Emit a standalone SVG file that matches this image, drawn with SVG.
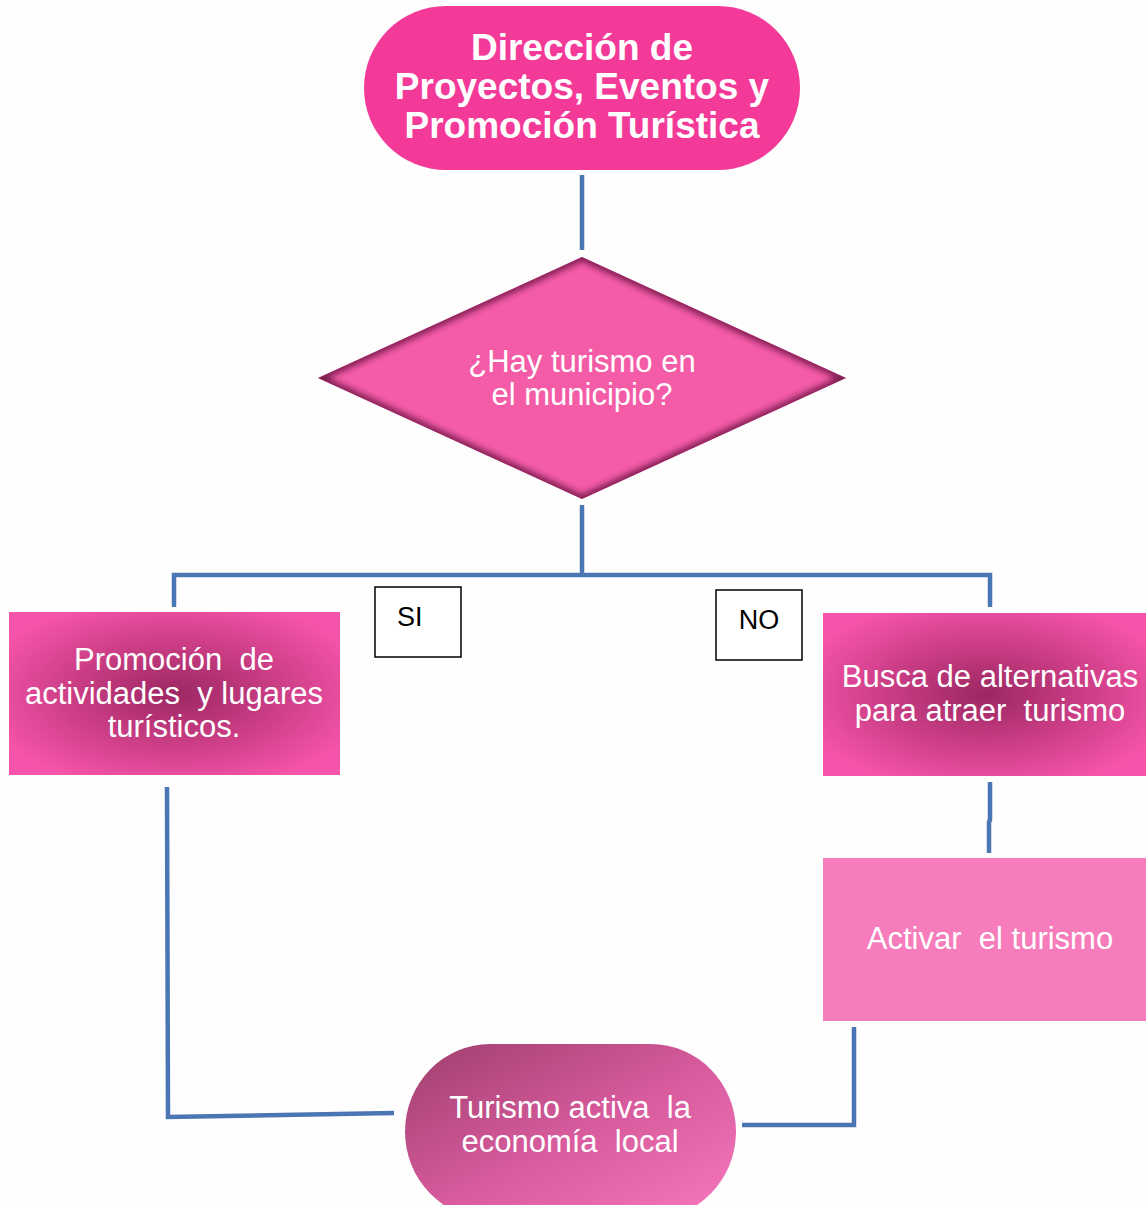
<svg xmlns="http://www.w3.org/2000/svg" width="1146" height="1205" viewBox="0 0 1146 1205">
<style>
.t{font-family:"Liberation Sans",Arial,sans-serif;fill:#fff;text-anchor:middle;font-size:31px;white-space:pre}
.tb{font-family:"Liberation Sans",Arial,sans-serif;fill:#fff;text-anchor:middle;font-weight:bold;font-size:37px}
.c{fill:none;stroke:#4A76B3;stroke-width:4.5}
.lbl{fill:#fff;stroke:#000;stroke-width:1.5}
.lt{font-family:"Liberation Sans",Arial,sans-serif;fill:#000;font-size:27px}
</style>
<defs>
<radialGradient id="rg" cx="0.5" cy="0.5" r="0.6">
<stop offset="0" stop-color="#9C2762"/>
<stop offset="0.55" stop-color="#CE3F88"/>
<stop offset="1" stop-color="#F654AA"/>
</radialGradient>
<linearGradient id="lg" x1="0" y1="0" x2="1" y2="1">
<stop offset="0" stop-color="#9E3F6C"/>
<stop offset="0.5" stop-color="#D65A9C"/>
<stop offset="1" stop-color="#F878BE"/>
</linearGradient>
<clipPath id="dc"><polygon points="318,378 582,257 846,378 582,499"/></clipPath>
<filter id="bl" x="-10%" y="-10%" width="120%" height="120%"><feGaussianBlur stdDeviation="3"/></filter>
</defs>
<rect width="1146" height="1205" fill="#fefefe"/>
<g id="connectors">
<line class="c" x1="582" y1="175" x2="582" y2="250"/>
<polyline class="c" points="582,505 582,575"/>
<polyline class="c" points="174,607 174,575 990,575 990,607"/>
<polyline class="c" points="990,782 990,820 989,822 989,853"/>
<polyline class="c" points="167,787 168,1117 394,1113"/>
<polyline class="c" points="854,1027 854,1125 742,1125"/>
</g>
<g id="n-direccion">
<rect x="364" y="6" width="436" height="164" rx="82" fill="#F43A99"/>
<text class="tb" x="582" y="60">Dirección de</text>
<text class="tb" x="582" y="99">Proyectos, Eventos y</text>
<text class="tb" x="582" y="138">Promoción Turística</text>
</g>
<g id="n-decision">
<polygon points="318,378 582,257 846,378 582,499" fill="#F45CA8"/>
<g clip-path="url(#dc)"><polygon points="318,378 582,257 846,378 582,499" fill="none" stroke="#7D1F4F" stroke-width="8" filter="url(#bl)"/></g>
<text class="t" x="582" y="372">¿Hay turismo en</text>
<text class="t" x="582" y="405">el municipio?</text>
</g>
<g id="lbl-si">
<rect class="lbl" x="375" y="587" width="86" height="70"/>
<text class="lt" x="397" y="626">SI</text>
</g>
<g id="lbl-no">
<rect class="lbl" x="716" y="590" width="86" height="70"/>
<text class="lt" x="759" y="629" text-anchor="middle">NO</text>
</g>
<g id="n-promocion">
<rect x="9" y="612" width="331" height="163" fill="url(#rg)"/>
<text class="t" x="174" y="670">Promoción  de</text>
<text class="t" x="174" y="704">actividades  y lugares</text>
<text class="t" x="174" y="737">turísticos.</text>
</g>
<g id="n-busca">
<rect x="823" y="613" width="323" height="163" fill="url(#rg)"/>
<text class="t" x="990" y="687">Busca de alternativas</text>
<text class="t" x="990" y="721">para atraer  turismo</text>
</g>
<g id="n-activar">
<rect x="823" y="858" width="323" height="163" fill="#F67CBC"/>
<text class="t" x="990" y="949">Activar  el turismo</text>
</g>
<g id="n-economia">
<rect x="405" y="1044" width="331" height="175" rx="85" ry="88" fill="url(#lg)"/>
<text class="t" x="570" y="1118">Turismo activa  la</text>
<text class="t" x="570" y="1152">economía  local</text>
</g>
</svg>
